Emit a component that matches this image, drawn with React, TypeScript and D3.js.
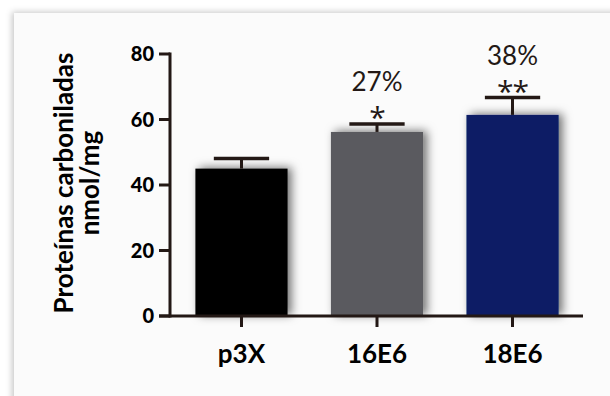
import React from "react";
import * as d3 from "d3";

const groups = ["p3X", "16E6", "18E6"];
const means = [45, 56.2, 61.4];
const errors = [3.1, 2.4, 5.3];
const percentLabels = ["", "27%", "38%"];
const starLabels = ["", "*", "**"];
const yTicks = [0, 20, 40, 60, 80];
const barColors = ["#000000", "#5a5a5e", "#0b1f65"];

const W = 610;
const H = 396;
const axisColor = "#231815";
const font = "Lato, 'Open Sans', sans-serif";

export default function App() {
  const x = d3.scaleBand().domain(groups).range([171, 583]).paddingInner(0.32).paddingOuter(0.18);
  const y = d3.scaleLinear().domain([0, 80]).range([316, 54]);

  const bars = groups.map((g, i) => {
    const x0 = x(g) as number;
    const bw = x.bandwidth();
    const cx = x0 + bw / 2;
    const top = y(means[i]);
    const cap = y(means[i] + errors[i]);
    const capW = bw * 0.6;
    return (
      <g key={g}>
        <rect x={x0} y={top} width={bw} height={y(0) - top} fill={barColors[i]} filter="url(#barShadow)" />
        <line x1={cx} x2={cx} y1={top} y2={cap} stroke={axisColor} strokeWidth={3} />
        <line x1={cx - capW / 2} x2={cx + capW / 2} y1={cap} y2={cap} stroke={axisColor} strokeWidth={3.5} />
        {starLabels[i] && (
          <text x={cx} y={cap + 4} textAnchor="middle" fontFamily="'Open Sans', sans-serif" fontSize={30} letterSpacing={-1} fill="#231815">
            {starLabels[i]}
          </text>
        )}
        {percentLabels[i] && (
          <text x={cx} y={cap - 33} textAnchor="middle" fontFamily={font} fontSize={26} fill="#231815">
            {percentLabels[i]}
          </text>
        )}
      </g>
    );
  });

  return (
    <svg width={W} height={H} style={{ position: "absolute", left: 0, top: 0 }}>
      <defs>
        <filter id="panelShadow" x="-5%" y="-5%" width="110%" height="110%">
          <feDropShadow dx={-2} dy={-1} stdDeviation={3} floodColor="#000" floodOpacity={0.22} />
        </filter>
        <filter id="barShadow" x="-20%" y="-20%" width="140%" height="130%">
          <feDropShadow dx={4} dy={-1} stdDeviation={5} floodColor="#000" floodOpacity={0.55} />
        </filter>
      </defs>
      <rect x={0} y={0} width={W} height={H} fill="#ffffff" />
      <rect x={14} y={13} width={W + 20} height={H + 20} fill="#fbfbfb" filter="url(#panelShadow)" />

      {bars}

      {/* y axis */}
      <line x1={170} x2={170} y1={y(80) - 1.5} y2={y(0) + 1.5} stroke={axisColor} strokeWidth={3} />
      {yTicks.map(t => (
        <g key={t}>
          <line x1={159} x2={170} y1={y(t)} y2={y(t)} stroke={axisColor} strokeWidth={3} />
          <text x={154} y={y(t)} dy="0.36em" textAnchor="end" fontFamily={font} fontWeight={900} fontSize={20} fill="#000">
            {t}
          </text>
        </g>
      ))}

      {/* x axis */}
      <line x1={159} x2={583} y1={y(0)} y2={y(0)} stroke={axisColor} strokeWidth={3} />
      {groups.map(g => {
        const cx = (x(g) as number) + x.bandwidth() / 2;
        return (
          <g key={g}>
            <line x1={cx} x2={cx} y1={y(0)} y2={y(0) + 11} stroke={axisColor} strokeWidth={3} />
            <text x={cx} y={363} textAnchor="middle" fontFamily={font} fontWeight={700} fontSize={26} fill="#000">
              {g}
            </text>
          </g>
        );
      })}

      {/* y title */}
      <text transform="translate(73,183) rotate(-90)" textAnchor="middle" fontFamily={font} fontWeight={700} fontSize={26} fill="#000">
        Proteínas carboniladas
      </text>
      <text transform="translate(99,183) rotate(-90)" textAnchor="middle" fontFamily={font} fontWeight={700} fontSize={26} fill="#000">
        nmol/mg
      </text>
    </svg>
  );
}
